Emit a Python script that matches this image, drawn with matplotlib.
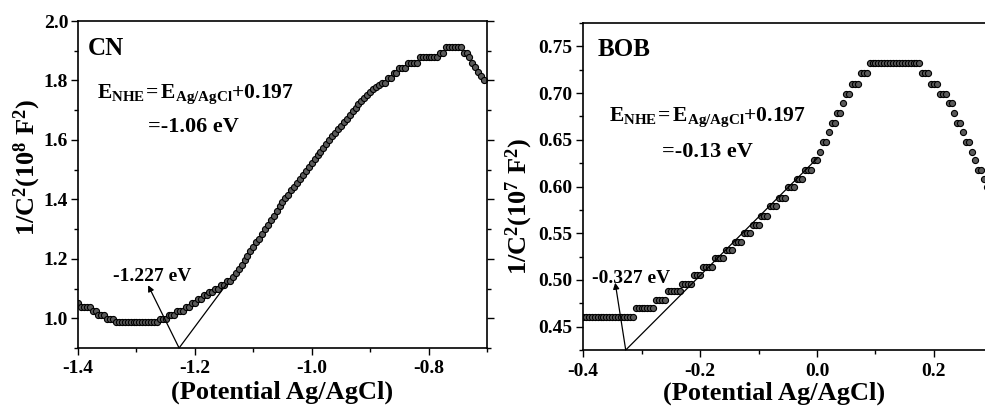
import numpy as np
import matplotlib
matplotlib.use("Agg")
import matplotlib.pyplot as plt
from matplotlib.ticker import MultipleLocator, FormatStrFormatter

plt.rcParams['font.family'] = ['Liberation Serif', 'DejaVu Serif']
plt.rcParams['font.weight'] = 'bold'
plt.rcParams['mathtext.fontset'] = 'custom'
plt.rcParams['mathtext.rm'] = 'Liberation Serif:bold'
plt.rcParams['mathtext.it'] = 'Liberation Serif:bold'
plt.rcParams['mathtext.bf'] = 'Liberation Serif:bold'
plt.rcParams['axes.unicode_minus'] = False

# scan step of both Mott-Schottky runs (V)
step = 0.005

# CN: 1/C^2 (10^8 F^2), potential starts at -1.4 V
cn_start = -1.4
cn_y = [1.050, 1.038, 1.038, 1.038, 1.038, 1.025, 1.025, 1.011, 1.011, 1.011,
        0.999, 0.999, 0.999, 0.987, 0.987, 0.987, 0.987, 0.987, 0.987, 0.987,
        0.987, 0.987, 0.987, 0.987, 0.987, 0.987, 0.987, 0.987, 0.999, 0.999,
        0.999, 1.011, 1.011, 1.011, 1.025, 1.025, 1.025, 1.039, 1.039, 1.050,
        1.050, 1.064, 1.064, 1.078, 1.078, 1.090, 1.090, 1.100, 1.100, 1.112,
        1.112, 1.125, 1.125, 1.140, 1.153, 1.165, 1.180, 1.195, 1.210, 1.225,
        1.240, 1.255, 1.268, 1.285, 1.300, 1.315, 1.330, 1.345, 1.360, 1.377,
        1.390, 1.403, 1.416, 1.430, 1.443, 1.456, 1.470, 1.483, 1.496, 1.509,
        1.522, 1.535, 1.548, 1.560, 1.573, 1.586, 1.600, 1.612, 1.624, 1.636,
        1.648, 1.660, 1.672, 1.684, 1.696, 1.708, 1.720, 1.730, 1.740, 1.750,
        1.760, 1.770, 1.778, 1.785, 1.793, 1.793, 1.808, 1.808, 1.824, 1.824,
        1.841, 1.841, 1.841, 1.860, 1.860, 1.860, 1.860, 1.878, 1.878, 1.878,
        1.878, 1.878, 1.878, 1.878, 1.893, 1.893, 1.911, 1.911, 1.911, 1.911,
        1.911, 1.911, 1.893, 1.893, 1.878, 1.860, 1.845, 1.830, 1.815, 1.800]

# BOB: 1/C^2 (10^7 F^2), potential starts at -0.4 V
bob_start = -0.4
bob_y = [0.4605] * 18 + [0.470] * 7 + [0.479] * 4 + [0.488] * 5 + [0.496] * 4 + \
        [0.505] * 3 + [0.514] * 4 + [0.523] * 4 + [0.532] * 3 + [0.541] * 3 + \
        [0.550] * 3 + [0.559] * 3 + [0.568] * 3 + [0.579] * 3 + [0.588] * 3 + \
        [0.599] * 3 + [0.608] * 3 + [0.618] * 3 + [0.628] * 2 + [0.637] + \
        [0.648] * 2 + [0.658] + [0.668] * 2 + [0.679] * 2 + [0.689] + \
        [0.699] * 2 + [0.710] * 3 + [0.721] * 3 + [0.732] * 18 + [0.721] * 3 + \
        [0.710] * 3 + [0.699] * 3 + [0.689] * 2 + [0.679] + [0.668] * 2 + \
        [0.658] + [0.648] * 2 + [0.637] + [0.628] + [0.618] * 2 + [0.608] + [0.599]

# tangent lines (x0, x1), (y0, y1) and arrows (tail, head)
cn_tangent = ([-1.227, -1.146], [0.90, 1.114])
bob_tangent = ([-0.327, 0.0], [0.425, 0.630])
cn_arrow = ((-1.227, 0.90), (-1.280, 1.111))
bob_arrow = ((-0.327, 0.425), (-0.345, 0.497))

cn_x = cn_start + step * np.arange(len(cn_y))
bob_x = bob_start + step * np.arange(len(bob_y))

fig = plt.figure(figsize=(9.85, 4.07), dpi=100)
ax1 = fig.add_axes([0.0792, 0.145, 0.4152, 0.8034])
ax2 = fig.add_axes([0.5919, 0.140, 0.4157, 0.8034])

mk = dict(marker='o', ls='none', ms=4.4, mfc='#5a5a5a', mec='black', mew=0.8)
eqn = r'$E_{NHE}\!{=}E_{Ag/AgCl}{+}0.197$'

def style(ax):
    for s in ax.spines.values():
        s.set_linewidth(1.2)
    ax.tick_params(which='both', direction='out', top=False, right=True,
                   labelsize=14, width=1.0)
    ax.tick_params(which='major', length=5)
    ax.tick_params(which='minor', length=3)
    ax.tick_params(axis='y', pad=2)
    ax.tick_params(axis='x', pad=4)

# --- CN ---
ax1.plot(cn_x, cn_y, **mk)
ax1.plot(*cn_tangent, color='black', lw=0.9)
ax1.annotate('', xy=cn_arrow[1], xytext=cn_arrow[0],
             arrowprops=dict(arrowstyle='-|>', color='black', lw=0.9,
                             mutation_scale=9, shrinkA=0, shrinkB=0))
ax1.set_xlim(-1.4, -0.70)
ax1.set_ylim(0.9, 2.0)
ax1.xaxis.set_major_locator(MultipleLocator(0.2))
ax1.xaxis.set_minor_locator(MultipleLocator(0.1))
ax1.yaxis.set_major_locator(MultipleLocator(0.2))
ax1.yaxis.set_minor_locator(MultipleLocator(0.1))
ax1.xaxis.set_major_formatter(FormatStrFormatter('%.1f'))
ax1.yaxis.set_major_formatter(FormatStrFormatter('%.1f'))
style(ax1)
ax1.set_xlabel('(Potential Ag/AgCl)', fontsize=19, fontweight='bold')
ax1.set_ylabel('1/C$^{2}$(10$^{8}$ F$^{2}$)', fontsize=19, fontweight='bold')
ax1.xaxis.set_label_coords(0.5, -0.101)
ax1.yaxis.set_label_coords(-0.086, 0.553)
ax1.text(0.025, 0.915, 'CN', transform=ax1.transAxes, fontsize=18,
         fontweight='bold', va='center')
ax1.text(0.047, 0.765, eqn, transform=ax1.transAxes, fontsize=15.5)
ax1.text(0.171, 0.66, '=-1.06 eV', transform=ax1.transAxes, fontsize=16,
         fontweight='bold')
ax1.text(-1.34, 1.126, '-1.227 eV', fontsize=14, fontweight='bold')

# --- BOB ---
ax2.plot(bob_x, bob_y, **mk)
ax2.plot(*bob_tangent, color='black', lw=0.9)
ax2.annotate('', xy=bob_arrow[1], xytext=bob_arrow[0],
             arrowprops=dict(arrowstyle='-|>', color='black', lw=0.9,
                             mutation_scale=9, shrinkA=0, shrinkB=0))
ax2.set_xlim(-0.4, 0.3)
ax2.set_ylim(0.425, 0.775)
ax2.xaxis.set_major_locator(MultipleLocator(0.2))
ax2.xaxis.set_minor_locator(MultipleLocator(0.1))
ax2.yaxis.set_major_locator(MultipleLocator(0.05))
ax2.yaxis.set_minor_locator(MultipleLocator(0.025))
ax2.xaxis.set_major_formatter(FormatStrFormatter('%.1f'))
ax2.yaxis.set_major_formatter(FormatStrFormatter('%.2f'))
style(ax2)
ax2.tick_params(axis='y', pad=3)
ax2.set_xlabel('(Potential Ag/AgCl)', fontsize=19, fontweight='bold')
ax2.set_ylabel('1/C$^{2}$(10$^{7}$ F$^{2}$)', fontsize=19, fontweight='bold')
ax2.xaxis.set_label_coords(0.466, -0.095)
ax2.yaxis.set_label_coords(-0.117, 0.44)
ax2.text(0.035, 0.92, 'BOB', transform=ax2.transAxes, fontsize=18,
         fontweight='bold', va='center')
ax2.text(0.063, 0.70, eqn, transform=ax2.transAxes, fontsize=15.5)
ax2.text(0.193, 0.59, '=-0.13 eV', transform=ax2.transAxes, fontsize=16,
         fontweight='bold')
ax2.text(-0.385, 0.497, '-0.327 eV', fontsize=14, fontweight='bold')

fig.canvas.draw()
for ax in (ax1, ax2):
    plt.setp(ax.get_xticklabels() + ax.get_yticklabels(), fontweight='bold')

fig.savefig('out.png', dpi=100)
